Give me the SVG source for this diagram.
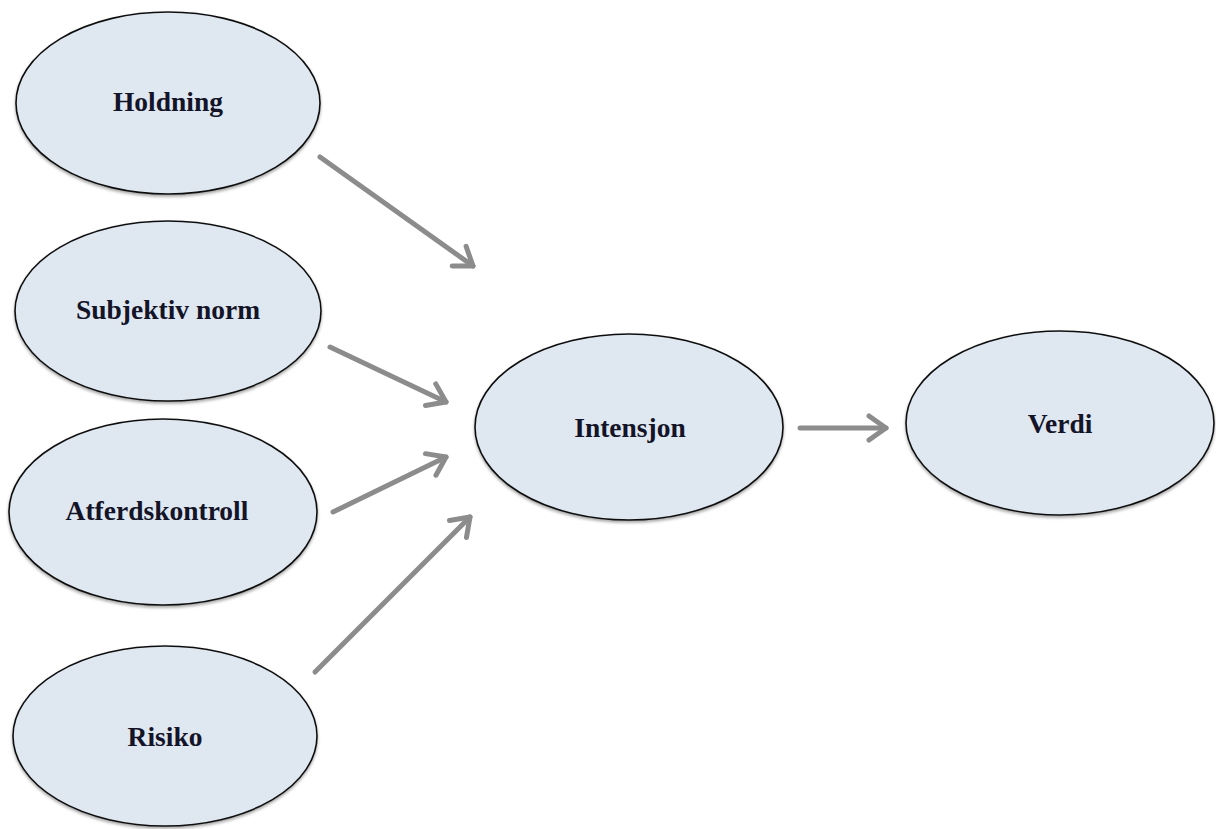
<svg xmlns="http://www.w3.org/2000/svg" width="1216" height="829" viewBox="0 0 1216 829">
<style>
.node ellipse{fill:#dfe8f1;stroke:#111;stroke-width:1.6;filter:url(#sh)}
.node text{font-family:"Liberation Serif","Times New Roman",serif;font-weight:bold;font-size:27.5px;fill:#141428;text-anchor:middle;dominant-baseline:central}
.edge{stroke:#8c8c8c;stroke-width:5;fill:none;stroke-linecap:round;marker-end:url(#ah)}
</style>
<defs>
<filter id="sh" x="-10%" y="-10%" width="120%" height="125%">
<feDropShadow dx="0" dy="2" stdDeviation="1.5" flood-color="#000" flood-opacity="0.35"/>
</filter>
<marker id="ah" markerUnits="userSpaceOnUse" markerWidth="40" markerHeight="40" viewBox="-25 -20 30 40" refX="0" refY="0" orient="auto">
<path d="M -17 -12 L 0 0 L -17 12" fill="none" stroke="#8c8c8c" stroke-width="5" stroke-linecap="round" stroke-linejoin="round"/>
</marker>
</defs>
<rect width="1216" height="829" fill="#fff"/>
<g id="connectors">
<line class="edge" x1="320" y1="157" x2="473" y2="266"/>
<line class="edge" x1="330" y1="347" x2="446" y2="402"/>
<line class="edge" x1="333" y1="512" x2="446" y2="457"/>
<line class="edge" x1="315" y1="672" x2="470" y2="517"/>
<line class="edge" x1="800" y1="428" x2="886" y2="428"/>
</g>
<g id="holdning" class="node"><ellipse cx="168" cy="103" rx="152" ry="91"/><text x="168" y="101">Holdning</text></g>
<g id="subjektiv-norm" class="node"><ellipse cx="168" cy="311" rx="153" ry="90"/><text x="168" y="309">Subjektiv norm</text></g>
<g id="atferdskontroll" class="node"><ellipse cx="163" cy="512" rx="154" ry="93"/><text x="157" y="510">Atferdskontroll</text></g>
<g id="risiko" class="node"><ellipse cx="165" cy="736" rx="152" ry="90"/><text x="165" y="736">Risiko</text></g>
<g id="intensjon" class="node"><ellipse cx="629" cy="427" rx="154" ry="93"/><text x="630" y="427">Intensjon</text></g>
<g id="verdi" class="node"><ellipse cx="1060" cy="423" rx="154" ry="92"/><text x="1060" y="423">Verdi</text></g>
</svg>
